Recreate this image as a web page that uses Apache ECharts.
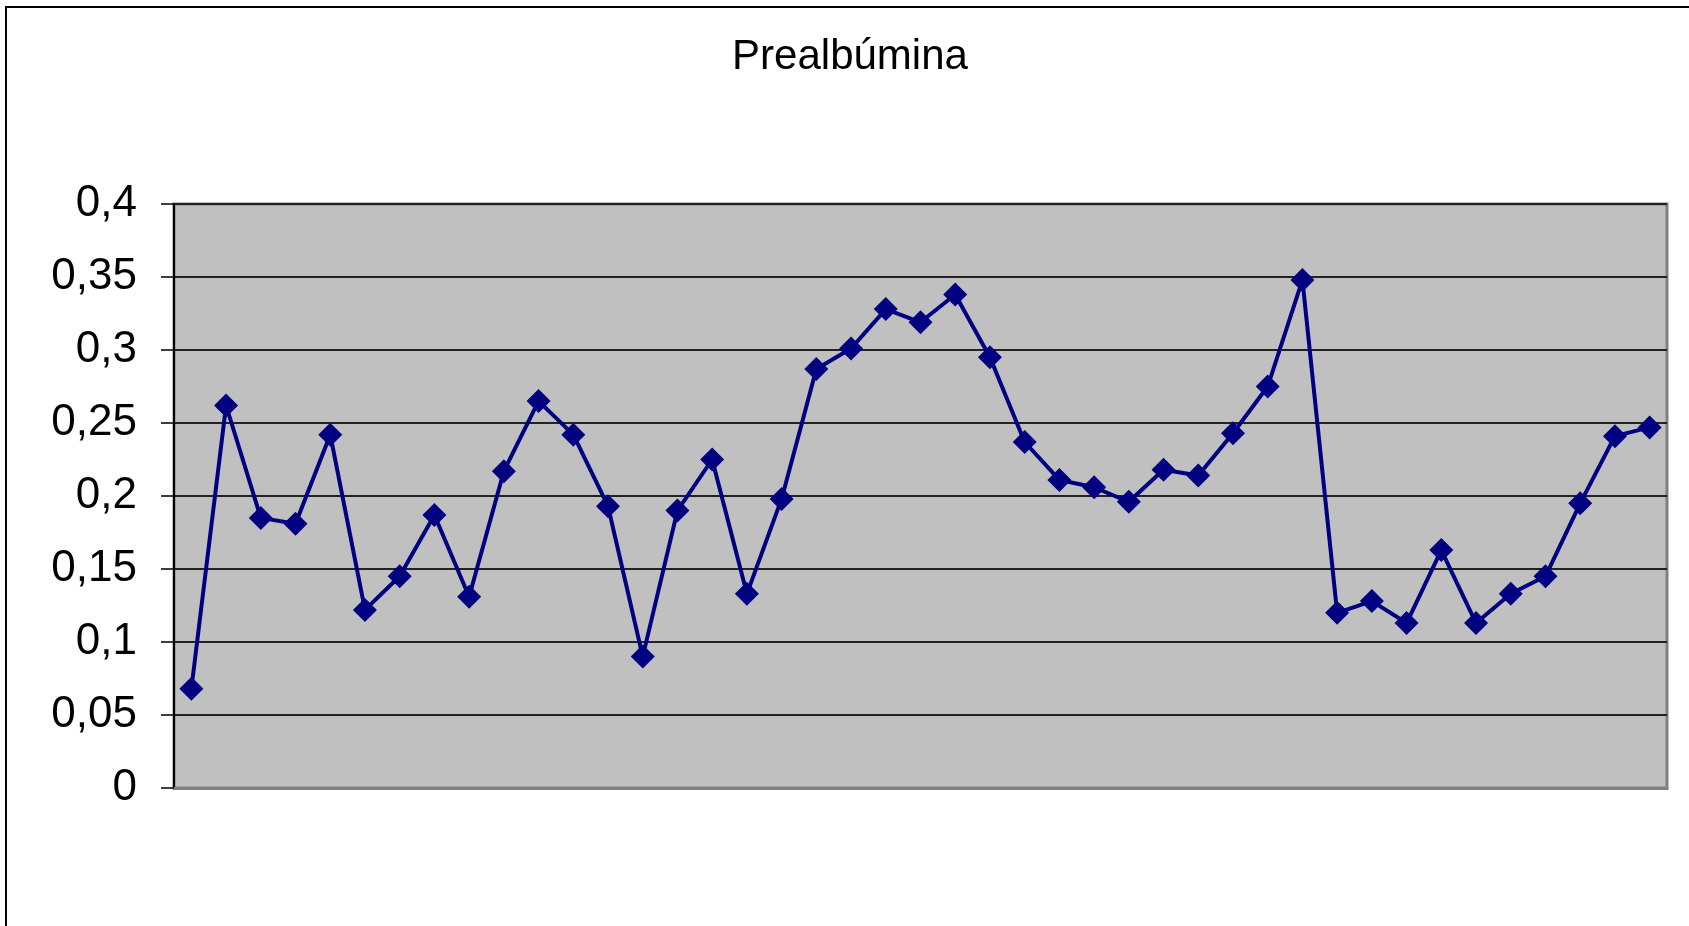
<!DOCTYPE html>
<html>
<head>
<meta charset="utf-8">
<script src="https://cdn.jsdelivr.net/npm/echarts@6/dist/echarts.min.js"></script>
<style>
    html, body { margin: 0; padding: 0; background: #fff; }
    #prealbumina { width: 1689px; height: 926px; }
</style>
</head>
<body>
<div id="prealbumina"></div>
<script>
// datos
var muestras = [];
for (var i = 1; i <= 43; i++) { muestras.push(String(i)); }
var prealbumina = [
    0.068, 0.262, 0.185, 0.181, 0.242, 0.122, 0.145, 0.187, 0.131, 0.217,
    0.265, 0.242, 0.193, 0.090, 0.190, 0.225, 0.133, 0.198, 0.287, 0.301,
    0.328, 0.319, 0.338, 0.295, 0.237, 0.211, 0.206, 0.196, 0.218, 0.214,
    0.243, 0.275, 0.348, 0.120, 0.128, 0.113, 0.163, 0.113, 0.133, 0.145,
    0.195, 0.241, 0.247
];
var yTicks = [0, 0.05, 0.1, 0.15, 0.2, 0.25, 0.3, 0.35, 0.4];

var myChart = echarts.init(document.getElementById('prealbumina'));
var option = {
    animation: false,
    textStyle: { fontFamily: 'Liberation Sans, Arial, sans-serif' },
    title: {
        text: 'Prealbúmina',
        left: 845,
        textAlign: 'center',
        top: 31,
        textStyle: {
            fontSize: 42,
            fontWeight: 'normal',
            color: '#000',
            fontFamily: 'Liberation Sans, Arial, sans-serif'
        }
    },
    graphic: [{
        type: 'rect',
        shape: { x: 6, y: 7, width: 1720, height: 960 },
        style: { fill: 'none', stroke: '#000', lineWidth: 2 },
        silent: true
    }],
    grid: {
        left: 174,
        right: 22,
        top: 204,
        bottom: 138,
        show: true,
        backgroundColor: '#C0C0C0',
        borderColor: '#808080',
        borderWidth: 3
    },
    xAxis: {
        type: 'category',
        data: muestras,
        boundaryGap: true,
        axisLine: { show: true, lineStyle: { color: '#808080', width: 3 } },
        axisTick: { show: false },
        axisLabel: { show: false },
        splitLine: { show: false }
    },
    yAxis: {
        type: 'value',
        min: yTicks[0],
        max: yTicks[yTicks.length - 1],
        interval: 0.05,
        axisLine: { show: true, lineStyle: { color: '#000', width: 2 } },
        axisTick: { show: true, length: 13, lineStyle: { color: '#000', width: 1.5 } },
        axisLabel: {
            fontSize: 44,
            color: '#000',
            margin: 37,
            formatter: function (v) {
                return String(Math.round(v * 100) / 100).replace('.', ',');
            }
        },
        splitLine: { show: true, lineStyle: { color: '#222', width: 2 } }
    },
    series: [{
        name: 'Prealbúmina',
        type: 'line',
        data: prealbumina,
        symbol: 'diamond',
        symbolSize: 24,
        showAllSymbol: true,
        lineStyle: { color: '#000080', width: 4 },
        itemStyle: { color: '#000080' }
    }]
};
myChart.setOption(option);
</script>
</body>
</html>
